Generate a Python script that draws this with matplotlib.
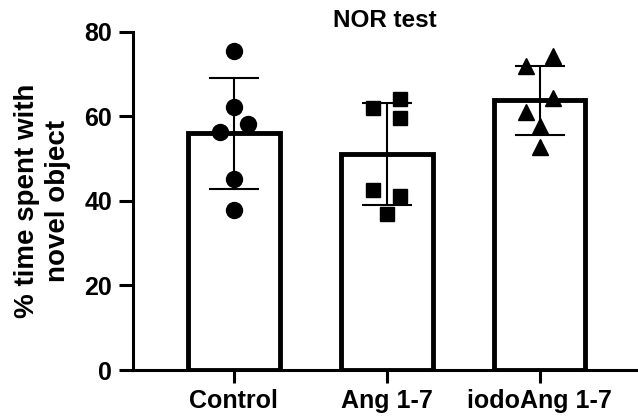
import numpy as np
import matplotlib
matplotlib.use('Agg')
import matplotlib.pyplot as plt

plt.rcParams['font.family'] = ['Liberation Sans', 'DejaVu Sans']
plt.rcParams['font.weight'] = 'bold'

groups = ['Control', 'Ang 1-7', 'iodoAng 1-7']
means = [56.0, 51.1, 63.8]
sds = [13.1, 12.1, 8.2]

control = [75.5, 62.2, 58.2, 56.3, 45.2, 37.9]
ang = [64.1, 62.0, 59.6, 42.6, 41.2, 36.9]
iodo = [74.2, 72.0, 64.4, 61.1, 57.8, 52.8]

# horizontal spread of the dots (prism style scatter)
spread = [[0, 0, 1, -1, 0, 0],
          [1, -1, 1, -1, 1, 0],
          [1, -1, 1, -1, 0, 0]]
markers = ['o', 's', '^']

fig = plt.figure(figsize=(6.38, 4.17), dpi=100)
ax = fig.add_axes([0.2085, 0.1127, 0.7905, 0.8106])

x = np.arange(len(groups))
ax.bar(x, means, width=0.6, color='white', edgecolor='black', linewidth=3.5, zorder=1)
ax.errorbar(x, means, yerr=sds, fmt='none', ecolor='black', elinewidth=1.5,
            capsize=18, capthick=1.5, zorder=2)

for i, vals in enumerate([control, ang, iodo]):
    xs = x[i] + np.array(spread[i]) * 0.09
    ax.plot(xs, vals, linestyle='none', marker=markers[i], color='black',
            markersize=11.5 if markers[i] != 's' else 10.5, zorder=3)

ax.set_xlim(-0.66, 2.64)
ax.set_ylim(0, 80)
ax.set_yticks([0, 20, 40, 60, 80])
ax.set_xticks(x)
ax.set_xticklabels(groups)
ax.tick_params(axis='y', length=10, width=2.2, labelsize=18, pad=5)
ax.tick_params(axis='x', length=9, width=2.2, labelsize=18, pad=5)
for lab in ax.get_xticklabels() + ax.get_yticklabels():
    lab.set_fontweight('bold')

ax.spines['right'].set_visible(False)
ax.spines['top'].set_visible(False)
ax.spines['left'].set_linewidth(2.2)
ax.spines['bottom'].set_linewidth(2.2)

ax.set_ylabel('% time spent with\nnovel object', fontsize=20, fontweight='bold',
              linespacing=1.25)
ax.yaxis.set_label_coords(-0.122, 0.5)
ax.set_title('NOR test', fontsize=17.5, fontweight='bold', pad=0)

plt.savefig('out.png', dpi=100)
